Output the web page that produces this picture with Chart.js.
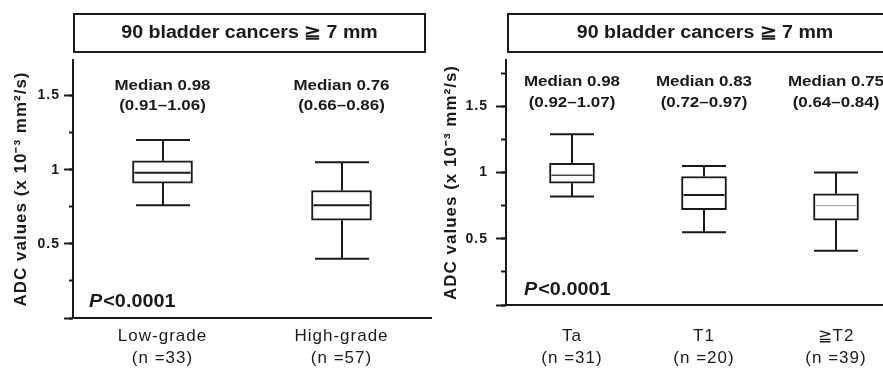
<!DOCTYPE html>
<html>
<head>
<meta charset="utf-8">
<script src="https://cdn.jsdelivr.net/npm/chart.js@4.4.1/dist/chart.umd.min.js"></script>
<style>
  html, body { margin: 0; padding: 0; background: #fff; overflow: hidden; width: 883px; height: 369px; position: relative; }
  #left { position: absolute; left: 0; top: 0; width: 441px; height: 369px; }
  #right { position: absolute; left: 441px; top: 0; width: 470px; height: 369px; }
</style>
</head>
<body>
<div id="left"><canvas id="gradeChart"></canvas></div>
<div id="right"><canvas id="stageChart"></canvas></div>
<script>
const yTitle = 'ADC values (x 10\u207B\u00B3 mm\u00B2/s)';
const panelTitle = '90 bladder cancers \u2267 7 mm';

// left panel: grade
const gradeCats = [['Low-grade', '(n =33)'], ['High-grade', '(n =57)']];
const gradeLow = [0.76, 0.40];
const gradeQ1 = [0.91, 0.66];
const gradeMed = [0.98, 0.76];
const gradeQ3 = [1.06, 0.86];
const gradeHigh = [1.20, 1.05];
const gradeNotes = [['Median 0.98', '(0.91\u20131.06)'], ['Median 0.76', '(0.66\u20130.86)']];

// right panel: T stage
const stageCats = [['Ta', '(n =31)'], ['T1', '(n =20)'], ['\u2267T2', '(n =39)']];
const stageLow = [0.82, 0.55, 0.41];
const stageQ1 = [0.92, 0.72, 0.64];
const stageMed = [0.98, 0.83, 0.75];
const stageQ3 = [1.07, 0.97, 0.84];
const stageHigh = [1.29, 1.05, 1.00];
const stageNotes = [['Median 0.98', '(0.92\u20131.07)'], ['Median 0.83', '(0.72\u20130.97)'], ['Median 0.75', '(0.64\u20130.84)']];

const pText = '<0.0001';

const INK = '#1a1a1a';
const FAMILY = '"Liberation Sans", Arial, Helvetica, sans-serif';
Chart.defaults.font.family = FAMILY;
Chart.defaults.color = INK;

// text a bit wider than the font, like the scanned figure
function wideText(ctx, text, x, y, sx) {
  ctx.save();
  ctx.translate(x, y);
  ctx.scale(sx, 1);
  ctx.fillText(text, 0, 0);
  ctx.restore();
}

// whiskers, medians, notes, title box, P value
const boxExtras = {
  id: 'boxExtras',
  beforeDraw(chart) {
    chart.ctx.letterSpacing = '1px';
  },
  afterDatasetsDraw(chart, args, o) {
    const ctx = chart.ctx;
    const y = chart.scales.y;
    const bars = chart.getDatasetMeta(0).data;
    ctx.save();
    bars.forEach((bar, i) => {
      const x = Math.round(bar.x);
      const half = o.cap / 2;
      const yLo = y.getPixelForValue(o.low[i]);
      const yHi = y.getPixelForValue(o.high[i]);
      const yQ1 = y.getPixelForValue(o.q1[i]);
      const yQ3 = y.getPixelForValue(o.q3[i]);
      const yMed = y.getPixelForValue(o.med[i]);
      ctx.strokeStyle = INK;
      ctx.lineWidth = 2;
      ctx.beginPath();
      ctx.moveTo(x, yHi); ctx.lineTo(x, yQ3);
      ctx.moveTo(x, yQ1); ctx.lineTo(x, yLo);
      ctx.moveTo(x - half, yHi); ctx.lineTo(x + half, yHi);
      ctx.moveTo(x - half, yLo); ctx.lineTo(x + half, yLo);
      ctx.stroke();
      ctx.strokeStyle = o.medColor[i];
      ctx.lineWidth = o.medWidth[i];
      ctx.beginPath();
      ctx.moveTo(bar.x - bar.width / 2 + 2, yMed);
      ctx.lineTo(bar.x + bar.width / 2 - 2, yMed);
      ctx.stroke();
      ctx.fillStyle = INK;
      ctx.font = 'bold 15px ' + FAMILY;
      ctx.letterSpacing = '0px';
      ctx.textAlign = 'center';
      ctx.textBaseline = 'middle';
      wideText(ctx, o.notes[i][0], bar.x, o.noteY[0], 1.13);
      wideText(ctx, o.notes[i][1], bar.x, o.noteY[1], 1.13);
    });
    ctx.restore();
  },
  afterDraw(chart, args, o) {
    const ctx = chart.ctx;
    const a = chart.chartArea;
    ctx.save();
    // header box
    ctx.strokeStyle = INK;
    ctx.lineWidth = 2;
    const bx = a.left + o.boxInset[0];
    const bw = a.right - o.boxInset[1] - bx;
    ctx.strokeRect(bx, 14, bw, 38);
    ctx.fillStyle = INK;
    ctx.font = 'bold 17.5px ' + FAMILY;
    ctx.letterSpacing = '0px';
    ctx.textAlign = 'center';
    ctx.textBaseline = 'middle';
    wideText(ctx, panelTitle, bx + bw / 2, 33, 1.12);
    // P value
    ctx.textAlign = 'left';
    const px = a.left + o.pX;
    ctx.save();
    ctx.translate(px, o.pY);
    ctx.scale(1.1, 1);
    ctx.font = 'italic bold 18px ' + FAMILY;
    ctx.fillText('P', 0, 0);
    const w = ctx.measureText('P').width;
    ctx.font = 'bold 18px ' + FAMILY;
    ctx.fillText(pText, w + 1, 0);
    ctx.restore();
    ctx.restore();
  }
};

function makeChart(id, s) {
  return new Chart(document.getElementById(id), {
    type: 'bar',
    data: {
      labels: s.cats,
      datasets: [{
        data: s.q1.map((v, i) => [v, s.q3[i]]),
        backgroundColor: '#ffffff',
        borderColor: INK,
        borderWidth: 2,
        borderSkipped: false,
        barThickness: s.boxWidth
      }]
    },
    options: {
      responsive: true,
      maintainAspectRatio: false,
      animation: false,
      layout: { padding: { left: 0, top: 60, right: s.padRight, bottom: 0 } },
      plugins: {
        legend: { display: false },
        tooltip: { enabled: false },
        boxExtras: {
          low: s.low, high: s.high, q1: s.q1, q3: s.q3, med: s.med, notes: s.notes,
          cap: s.cap, medColor: s.medColor, medWidth: s.medWidth,
          noteY: s.noteY, boxInset: s.boxInset, pX: s.pX, pY: s.pY
        }
      },
      scales: {
        x: {
          grid: { display: false, drawTicks: false },
          border: { color: INK, width: 2 },
          ticks: { font: { size: 17, lineHeight: 1.25 }, color: INK, padding: s.xPad, maxRotation: 0 },
          afterFit: sc => { sc.height = s.xHeight; }
        },
        y: {
          position: 'left',
          weight: 1,
          min: 0,
          max: s.yMax,
          ticks: {
            stepSize: 0.5,
            includeBounds: false,
            padding: s.tickPad,
            color: INK,
            font: { size: 14, weight: 'bold' },
            callback: v => (v === 0 ? '' : String(v))
          },
          grid: { drawOnChartArea: false, tickLength: s.tickLen, tickWidth: 2, tickColor: INK },
          border: { color: INK, width: 2 },
          title: {
            display: true,
            text: yTitle,
            color: INK,
            font: { size: 17, weight: 'bold' },
            padding: { top: s.titlePad, bottom: 0 }
          },
          afterFit: sc => { sc.width = s.yWidth; }
        },
        yMinor: {
          position: 'left',
          weight: 0,
          min: 0,
          max: s.yMax,
          ticks: { stepSize: 0.25, includeBounds: false, display: false },
          grid: { drawOnChartArea: false, tickLength: s.minorLen, tickWidth: 2, tickColor: INK },
          border: { display: false },
          afterFit: sc => { sc.width = 0; }
        }
      }
    },
    plugins: [boxExtras]
  });
}

makeChart('gradeChart', {
  cats: gradeCats, low: gradeLow, q1: gradeQ1, med: gradeMed, q3: gradeQ3, high: gradeHigh, notes: gradeNotes,
  medColor: [INK, INK], medWidth: [2, 2],
  yMax: 1.74, boxWidth: 60, cap: 54,
  yWidth: 73, xHeight: 51, padRight: 10, tickLen: 9, minorLen: 4, tickPad: 4, titlePad: 11, xPad: 8,
  noteY: [86, 106], boxInset: [1, 6], pX: 16, pY: 302
});

makeChart('stageChart', {
  cats: stageCats, low: stageLow, q1: stageQ1, med: stageMed, q3: stageQ3, high: stageHigh, notes: stageNotes,
  medColor: ['#444444', INK, '#9a9a9a'], medWidth: [1.5, 2, 1],
  yMax: 1.85, boxWidth: 45, cap: 44,
  yWidth: 65, xHeight: 64, padRight: 9, tickLen: 10, minorLen: 5, tickPad: 8, titlePad: 0, xPad: 21,
  noteY: [82, 103], boxInset: [2, 0], pX: 18, pY: 290
});
</script>
</body>
</html>
